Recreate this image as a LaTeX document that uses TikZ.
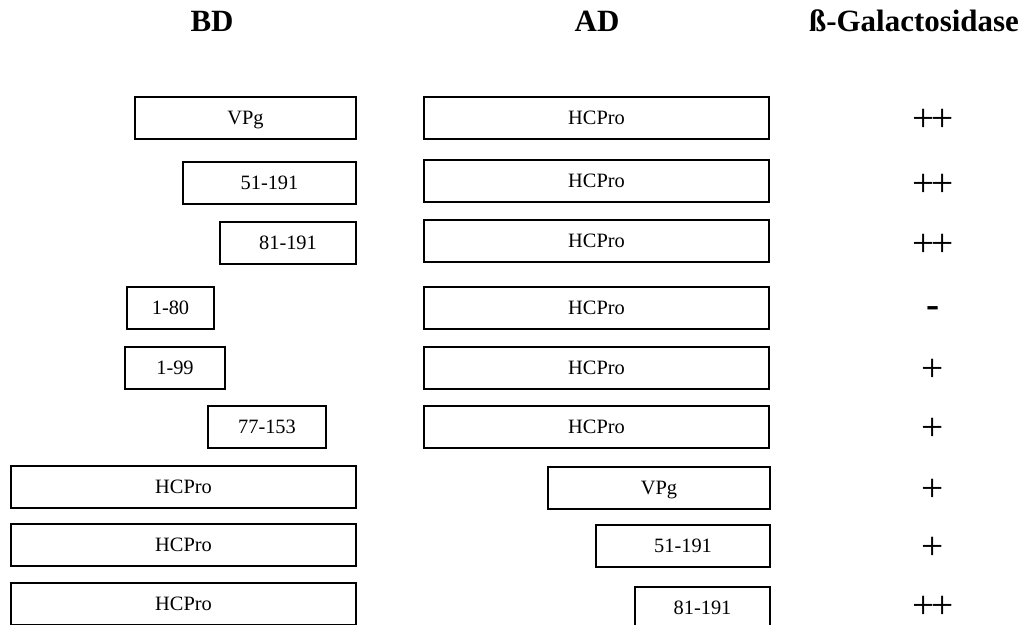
\documentclass[tikz,border=0pt]{standalone}
\usepackage{fontspec}
\setmainfont{Liberation Serif}

\begin{document}
\begin{tikzpicture}[x=0.025cm,y=-0.025cm,line width=1.3pt,
  frag/.style={draw,inner sep=0pt,minimum height=42*0.025cm,
    text height=9.5pt,text depth=0pt,font=\fontsize{14.5}{16}\selectfont},
  head/.style={anchor=base,font=\fontsize{22}{26}\selectfont\bfseries},
  score/.style={inner sep=0pt,text depth=0pt,font=\fontsize{28}{30}\selectfont}]
\useasboundingbox (0,0) rectangle (1023,624);
% Fragment: \fragbox{name}{left}{right}{y}{label}
\newcommand{\fragbox}[5]{
  \node[frag,minimum width={(#3-#2)*0.025cm}] (#1) at ({(#2+#3)/2},#4) {#5};}
\newcommand{\pp}{+\kern-0.1em+}
% ---------- headings ----------
\node[head] (hbd) at (212,32) {BD};
\node[head] (had) at (597,32) {AD};
\node[head] (hgal) at (914,32) {ß-Galactosidase};
% ---------- BD fragments against AD-HCPro ----------
\fragbox{bd1}{135}{356}{118}{VPg}    \fragbox{ad1}{424}{769}{118}{HCPro}
\node[score] (s1) at (933,120) {\pp};
\fragbox{bd2}{183}{356}{183}{51-191} \fragbox{ad2}{424}{769}{181}{HCPro}
\node[score] (s2) at (933,185) {\pp};
\fragbox{bd3}{220}{356}{243}{81-191} \fragbox{ad3}{424}{769}{241}{HCPro}
\node[score] (s3) at (933,245) {\pp};
\fragbox{bd4}{127}{214}{308}{1-80}   \fragbox{ad4}{424}{769}{308}{HCPro}
\node[score] (s4) at (933,312) {\bfseries -};
\fragbox{bd5}{125}{225}{368}{1-99}   \fragbox{ad5}{424}{769}{368}{HCPro}
\node[score] (s5) at (933,370) {+};
\fragbox{bd6}{208}{326}{427}{77-153} \fragbox{ad6}{424}{769}{427}{HCPro}
\node[score] (s6) at (933,429) {+};
% ---------- BD-HCPro against AD fragments ----------
\fragbox{bd7}{11}{356}{487}{HCPro}   \fragbox{ad7}{548}{770}{488}{VPg}
\node[score] (s7) at (933,490) {+};
\fragbox{bd8}{11}{356}{545}{HCPro}   \fragbox{ad8}{596}{770}{546}{51-191}
\node[score] (s8) at (933,548) {+};
\fragbox{bd9}{11}{356}{604}{HCPro}   \fragbox{ad9}{635}{770}{608}{81-191}
\node[score] (s9) at (933,607) {\pp};
\end{tikzpicture}
\end{document}
